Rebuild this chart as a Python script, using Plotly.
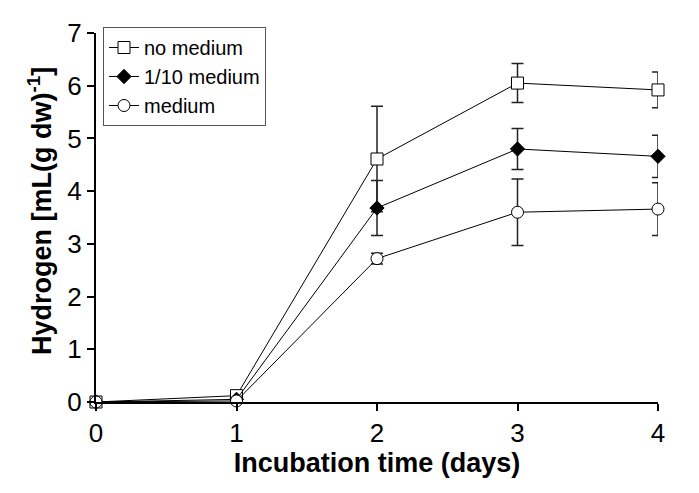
import plotly.graph_objects as go

days = [0, 1, 2, 3, 4]
no_medium = [0.0, 0.12, 4.61, 6.05, 5.92]
no_medium_err = [0.0, 0.0, 1.0, 0.37, 0.34]
tenth_medium = [0.0, 0.05, 3.68, 4.80, 4.66]
tenth_medium_err = [0.0, 0.0, 0.52, 0.39, 0.40]
medium = [0.0, 0.02, 2.72, 3.60, 3.66]
medium_err = [0.0, 0.0, 0.1, 0.63, 0.5]

series = [
    ("no medium", no_medium, no_medium_err, "square", 12, "white"),
    ("1/10 medium", tenth_medium, tenth_medium_err, "diamond", 11, "black"),
    ("medium", medium, medium_err, "circle", 12, "white"),
]

fig = go.Figure()
for name, vals, errs, sym, sz, fill in series:
    fig.add_trace(go.Scatter(
        x=days, y=vals, name=name, mode="lines+markers",
        line=dict(color="black", width=1),
        marker=dict(symbol=sym, size=sz, color=fill,
                    line=dict(color="black", width=1)),
        error_y=dict(type="data", array=errs, visible=True, color="#222",
                     thickness=1.5, width=6),
        cliponaxis=False,
    ))

font = "Liberation Sans, Arial, sans-serif"
fig.update_layout(
    width=699, height=493,
    margin=dict(l=88, r=49, t=25, b=99, autoexpand=False),
    plot_bgcolor="white", paper_bgcolor="white",
    font=dict(family=font, color="black"),
    showlegend=True,
    legend=dict(x=95 / 699, y=1 - 19 / 493, xref="container", yref="container",
                xanchor="left", yanchor="top",
                bordercolor="#555", borderwidth=1, bgcolor="white",
                font=dict(size=20, family=font), tracegroupgap=0,
                itemwidth=30),
    xaxis=dict(range=[0, 4], tickvals=[0, 1, 2, 3, 4], showgrid=False,
               zeroline=False, showline=True, linecolor="black", linewidth=2,
               ticks="outside", ticklen=7, tickwidth=2, tickcolor="black",
               tickfont=dict(size=26, family=font),
               title=dict(text="<b>Incubation time (days)</b>",
                          font=dict(size=27, family=font), standoff=4)),
    yaxis=dict(range=[0, 7], tickvals=list(range(8)), showgrid=False,
               zeroline=False, showline=True, linecolor="black", linewidth=2,
               ticks="outside", ticklen=7, tickwidth=2, tickcolor="black",
               tickfont=dict(size=26, family=font)),
    annotations=[dict(
        text="<b>Hydrogen [mL(g dw)<sup>-1</sup>]</b>",
        xref="paper", yref="paper", x=(32 - 88) / 562, y=(394 - 203) / 369,
        xanchor="center", yanchor="middle", textangle=-90, showarrow=False,
        font=dict(size=27, family=font, color="black"),
    )],
)

fig.write_html("out.html")
